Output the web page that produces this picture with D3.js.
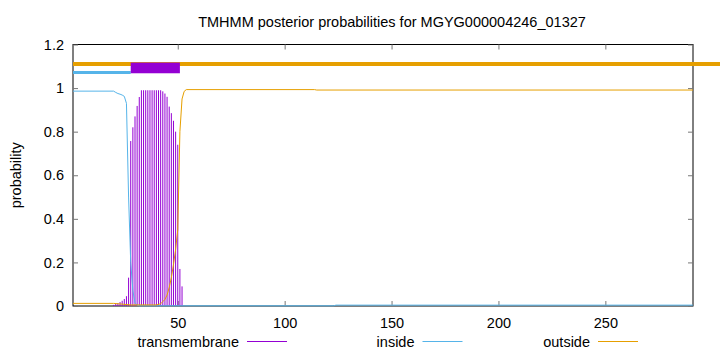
<!doctype html>
<html lang="en">
<head>
  <meta charset="utf-8">
  <title>TMHMM posterior probabilities</title>
  <style>
    body { margin: 0; background: #fff; }
    svg { display: block; font-family: "Liberation Sans", Arial, sans-serif; }
    .axis path { stroke: #000; }
    .axis line { stroke: #777; }
    .axis text { font-size: 14.5px; fill: #000; }
    .curve { fill: none; stroke-width: 1; }
  </style>
</head>
<body>
  <div id="chart"></div>
  <script src="https://cdn.jsdelivr.net/npm/d3@7"></script>
  <script>
// transmembrane posterior, one impulse per residue (zero elsewhere)
var tmResidues = [20, 21, 22, 23, 24, 25, 26, 27, 28, 29, 30, 31, 32, 33, 34, 35, 36,
                  37, 38, 39, 40, 41, 42, 43, 44, 45, 46, 47, 48, 49, 50, 51, 52];
var tmProb = [0.005, 0.01, 0.013, 0.018, 0.024, 0.032, 0.045, 0.13, 0.757, 0.82, 0.87,
              0.918, 0.959, 0.99, 0.99, 0.99, 0.99, 0.99, 0.99, 0.99, 0.99, 0.99, 0.99,
              0.985, 0.975, 0.96, 0.915, 0.885, 0.85, 0.80, 0.74, 0.17, 0.09];

// inside / outside curves: residue where the value changes, and the value there
var insideResidues = [1, 20, 21, 22, 23, 24, 25, 26, 27, 28, 29, 30, 31, 32, 123, 124, 291];
var insideProb = [0.986, 0.986, 0.98, 0.975, 0.972, 0.968, 0.962, 0.93, 0.5, 0.2, 0.07,
                  0.015, 0.004, 0.001, 0.001, 0.004, 0.004];

var outsideResidues = [1, 20, 28, 40, 42, 43, 44, 45, 46, 47, 48, 49, 50, 51, 52, 53, 54, 114, 115, 291];
var outsideProb = [0.012, 0.012, 0.005, 0.005, 0.01, 0.02, 0.03, 0.05, 0.085, 0.13, 0.19,
                   0.26, 0.35, 0.8, 0.95, 0.985, 0.993, 0.993, 0.991, 0.991];

// predicted topology bars along the top
var outsideBar = [1, 304];
var insideBar = [1, 28];
var tmBar = [28, 51];

var seqLength = 291;
var xTicks = [50, 100, 150, 200, 250];
var yTicks = [0, 0.2, 0.4, 0.6, 0.8, 1, 1.2];
var legendNames = ["transmembrane", "inside", "outside"];

(function(){

  var width = 720, height = 352;
  var margin = {top: 44.5, right: 27, bottom: 46, left: 73};
  var purple = "#9400d3", blue = "#56b4e9", orange = "#e69f00";

  var x = d3.scaleLinear().domain([1, seqLength]).range([margin.left, width - margin.right]);
  var y = d3.scaleLinear().domain([0, 1.2]).range([height - margin.bottom, margin.top]);

  var svg = d3.select("#chart").append("svg")
      .attr("width", width)
      .attr("height", height);

  // frame
  svg.append("rect")
      .attr("x", x.range()[0]).attr("y", y.range()[1])
      .attr("width", x.range()[1] - x.range()[0])
      .attr("height", y.range()[0] - y.range()[1])
      .attr("fill", "none").attr("stroke", "#000");

  var fmt = function(d) { return d3.format("~g")(d); };

  svg.append("g").attr("class", "axis")
      .attr("transform", "translate(0," + y.range()[0] + ")")
      .call(d3.axisBottom(x).tickValues(xTicks).tickSizeInner(-5).tickSizeOuter(0).tickPadding(12))
      .call(function(g) { g.select(".domain").remove(); });
  svg.append("g").attr("class", "axis")
      .attr("transform", "translate(0," + y.range()[1] + ")")
      .call(d3.axisTop(x).tickValues(xTicks).tickSizeInner(-5).tickSizeOuter(0).tickFormat(""))
      .call(function(g) { g.select(".domain").remove(); });
  svg.append("g").attr("class", "axis")
      .attr("transform", "translate(" + x.range()[0] + ",0)")
      .call(d3.axisLeft(y).tickValues(yTicks).tickFormat(fmt).tickSizeInner(-5).tickSizeOuter(0).tickPadding(9))
      .call(function(g) { g.select(".domain").remove(); });
  svg.append("g").attr("class", "axis")
      .attr("transform", "translate(" + x.range()[1] + ",0)")
      .call(d3.axisRight(y).tickValues(yTicks).tickSizeInner(-5).tickSizeOuter(0).tickFormat(""))
      .call(function(g) { g.select(".domain").remove(); });

  // impulses
  svg.append("g").selectAll("line")
      .data(tmResidues)
      .enter().append("line")
      .attr("x1", function(d) { return x(d); })
      .attr("x2", function(d) { return x(d); })
      .attr("y1", y(0))
      .attr("y2", function(d, i) { return y(tmProb[i]); })
      .attr("stroke", purple)
      .attr("stroke-width", 1);

  var line = d3.line()
      .x(function(d) { return x(d[0]); })
      .y(function(d) { return y(d[1]); });

  svg.append("path").attr("class", "curve")
      .attr("stroke", blue)
      .attr("d", line(d3.zip(insideResidues, insideProb)));
  svg.append("path").attr("class", "curve")
      .attr("stroke", orange)
      .attr("d", line(d3.zip(outsideResidues, outsideProb)));

  // topology bars
  svg.append("line")
      .attr("x1", x(outsideBar[0])).attr("x2", x(outsideBar[1]))
      .attr("y1", y(1.111)).attr("y2", y(1.111))
      .attr("stroke", orange).attr("stroke-width", 4);
  svg.append("line")
      .attr("x1", x(insideBar[0])).attr("x2", x(insideBar[1]))
      .attr("y1", y(1.072)).attr("y2", y(1.072))
      .attr("stroke", blue).attr("stroke-width", 3);
  svg.append("rect")
      .attr("x", x(tmBar[0])).attr("width", x(tmBar[1]) - x(tmBar[0]))
      .attr("y", y(1.117)).attr("height", y(1.068) - y(1.117))
      .attr("fill", purple);

  // title and y label
  svg.append("text")
      .attr("x", 392).attr("y", 27)
      .attr("text-anchor", "middle")
      .style("font-size", "14.5px")
      .text("TMHMM posterior probabilities for MGYG000004246_01327");

  svg.append("text")
      .attr("transform", "translate(21," + ((y.range()[0] + y.range()[1]) / 2) + ") rotate(-90)")
      .attr("text-anchor", "middle")
      .style("font-size", "14.5px")
      .text("probability");

  // legend
  var legendColors = [purple, blue, orange];
  var legend = svg.append("g").selectAll("g")
      .data(legendNames)
      .enter().append("g")
      .attr("transform", function(d, i) { return "translate(" + (239 + i * 175.5) + ",341.5)"; });
  legend.append("text")
      .attr("text-anchor", "end")
      .attr("dy", "0.35em")
      .style("font-size", "14.5px")
      .text(function(d) { return d; });
  legend.append("line")
      .attr("x1", 8).attr("x2", 48)
      .attr("stroke", function(d, i) { return legendColors[i]; })
      .attr("stroke-width", 1);

})();
  </script>
</body>
</html>
